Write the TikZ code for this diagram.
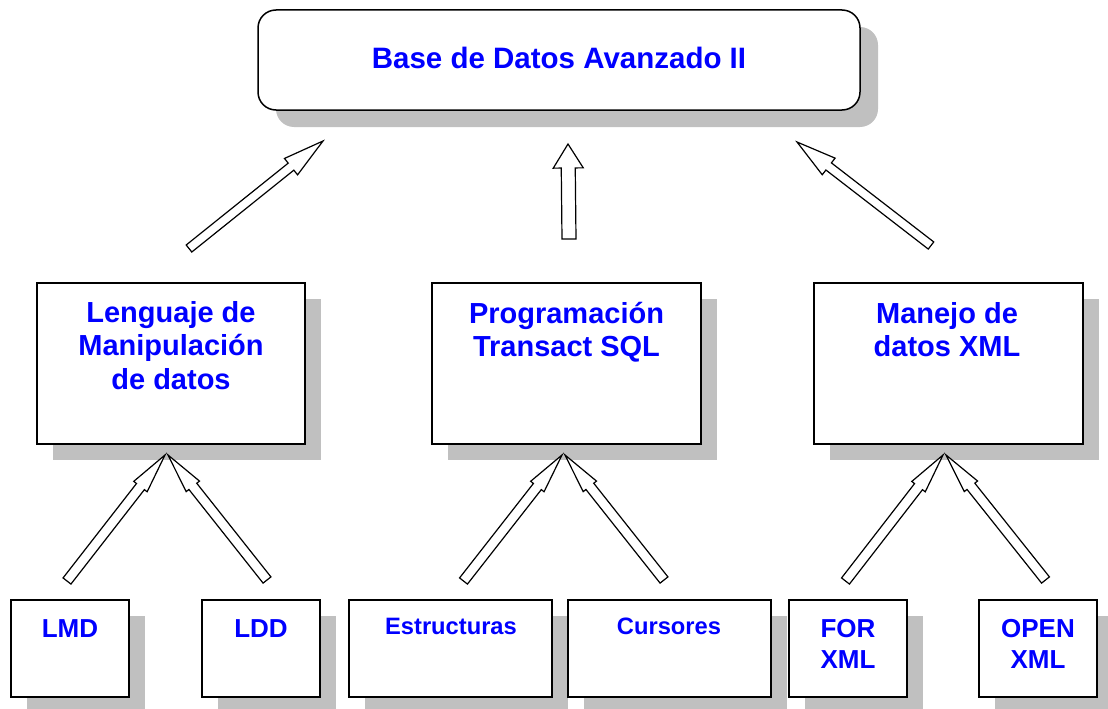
\documentclass[tikz,border=0pt]{standalone}
\usepackage{fontspec}
\setmainfont{Liberation Sans}
\usetikzlibrary{calc,shadows}
\definecolor{txtblue}{RGB}{0,0,255}
\definecolor{shadowgray}{RGB}{192,192,192}
\tikzset{
  boxshadow/.style={drop shadow={shadow xshift=16pt, shadow yshift=-16pt, fill=shadowgray, opacity=1, draw=none}},
  plainbox/.style={rectangle, draw=black, line width=1.8pt, fill=white, inner sep=0pt, boxshadow},
  topbox/.style={rectangle, rounded corners=18pt, draw=black, line width=1.5pt, fill=white, inner sep=0pt,
     drop shadow={shadow xshift=18pt, shadow yshift=-17pt, fill=shadowgray, opacity=1, draw=none}},
  bigtxt/.style={text=txtblue, font=\bfseries\fontsize{29.5}{34}\selectfont, inner sep=0pt, anchor=base},
  midtxt/.style={text=txtblue, font=\bfseries\fontsize{29}{33.5}\selectfont, inner sep=0pt, align=center, anchor=base},
  smalltxt/.style={text=txtblue, font=\bfseries\fontsize{26}{31}\selectfont, inner sep=0pt, align=center, anchor=base},
  tinytxt/.style={text=txtblue, font=\bfseries\fontsize{23.7}{28}\selectfont, inner sep=0pt, anchor=base},
  blockarr/.style={draw=black, line width=1.2pt, fill=white, line join=miter}
}
\newcommand{\mkblockarrow}[5]{%
  \coordinate (#2-b) at ($(#2)!#5pt!(#1)$);
  \draw[blockarr] ($(#1)!#3pt!90:(#2)$) -- ($(#2-b)!#3pt!90:(#2)$) -- ($(#2-b)!#4pt!90:(#2)$) -- (#2)
    -- ($(#2-b)!#4pt!-90:(#2)$) -- ($(#2-b)!#3pt!-90:(#2)$) -- ($(#1)!#3pt!-90:(#2)$) -- cycle;
}
\begin{document}
\begin{tikzpicture}[x=1pt,y=-1pt]
\useasboundingbox (0,0) rectangle (1108,709);

% top box
\node[topbox, minimum width=602pt, minimum height=100pt] (top) at (559,60) {};
\node[bigtxt] (toptxt) at (559,68) {Base de Datos Avanzado II};

% middle boxes
\node[plainbox, minimum width=268pt, minimum height=161pt] (lmdbox) at (171,363.5) {};
\node[plainbox, minimum width=269pt, minimum height=161pt] (tsql) at (566.5,363.5) {};
\node[plainbox, minimum width=269pt, minimum height=161pt] (xml) at (948.5,363.5) {};
\node[midtxt] (lmdboxtxt) at (171,389) {Lenguaje de\\Manipulación\\de datos};
\node[midtxt] (tsqltxt) at (566.5,356.5) {Programación\\Transact SQL};
\node[midtxt] (xmltxt) at (947,356.5) {Manejo de\\datos XML};

% bottom boxes
\node[plainbox, minimum width=118pt, minimum height=97pt] (lmd) at (70,648.5) {};
\node[plainbox, minimum width=118pt, minimum height=97pt] (ldd) at (261,648.5) {};
\node[plainbox, minimum width=203pt, minimum height=97pt] (estr) at (450.5,648.5) {};
\node[plainbox, minimum width=203pt, minimum height=97pt] (curs) at (669.5,648.5) {};
\node[plainbox, minimum width=118pt, minimum height=97pt] (forx) at (848,648.5) {};
\node[plainbox, minimum width=118pt, minimum height=97pt] (openx) at (1038,648.5) {};
\node[smalltxt] (lmdtxt) at (70,637) {LMD};
\node[smalltxt] (lddtxt) at (261,637) {LDD};
\node[tinytxt] (estrtxt) at (451,634) {Estructuras};
\node[tinytxt] (curstxt) at (669,634) {Cursores};
\node[smalltxt] (forxtxt) at (848,668) {FOR\\XML};
\node[smalltxt] (openxtxt) at (1038,668) {OPEN\\XML};

% arrow end points
\coordinate (a1t) at (189,248.5); \coordinate (a1h) at (323,141);
\coordinate (a2t) at (569,239);   \coordinate (a2h) at (568,144);
\coordinate (a3t) at (931,245.5); \coordinate (a3h) at (797,142);
\coordinate (b1t) at (67,581);    \coordinate (b1h) at (165,455);
\coordinate (b2t) at (267,580);   \coordinate (b2h) at (168,455);
\coordinate (b3t) at (463.5,581); \coordinate (b3h) at (562,455);
\coordinate (b4t) at (664,580);   \coordinate (b4h) at (565,455);
\coordinate (b5t) at (845.5,581); \coordinate (b5h) at (943,455);
\coordinate (b6t) at (1045.5,580);\coordinate (b6h) at (946,455);

\mkblockarrow{a1t}{a1h}{4.5}{10.5}{41}
\mkblockarrow{a2t}{a2h}{7}{15}{24}
\mkblockarrow{a3t}{a3h}{4.5}{10.5}{40}
\mkblockarrow{b1t}{b1h}{5}{8.5}{40}
\mkblockarrow{b2t}{b2h}{5}{8.5}{40}
\mkblockarrow{b3t}{b3h}{5}{8.5}{40}
\mkblockarrow{b4t}{b4h}{5}{8.5}{40}
\mkblockarrow{b5t}{b5h}{5}{8.5}{40}
\mkblockarrow{b6t}{b6h}{5}{8.5}{40}
\end{tikzpicture}
\end{document}
